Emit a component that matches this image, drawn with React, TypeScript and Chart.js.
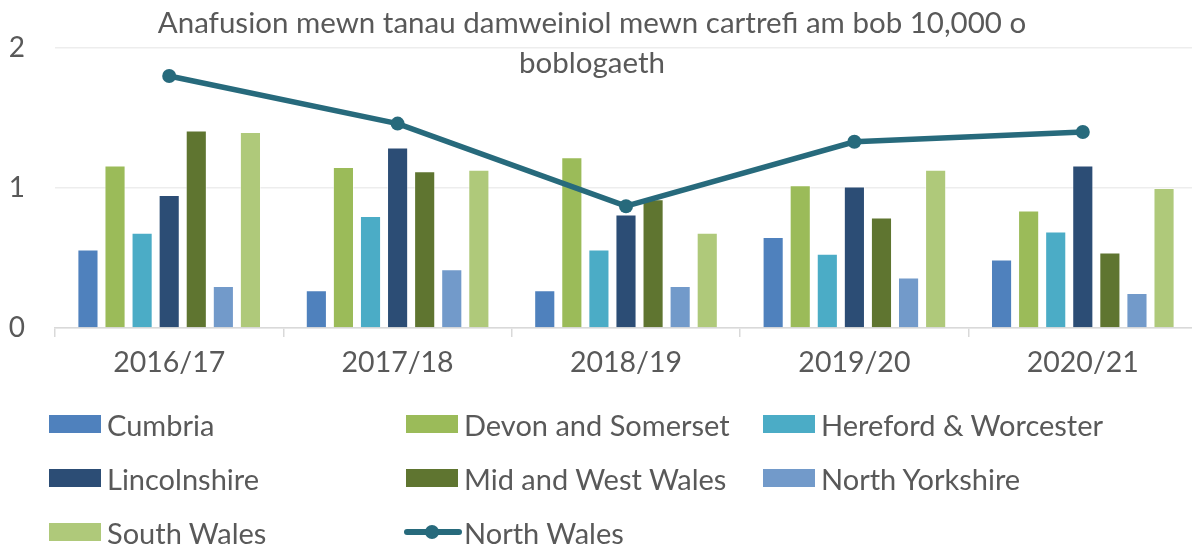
import React, { useEffect, useRef } from 'react';
import { Chart, registerables } from 'chart.js';
Chart.register(...registerables);

const FONT = 'Lato, "Noto Sans", sans-serif';
const TEXT = '#595959';

const categories = ['2016/17', '2017/18', '2018/19', '2019/20', '2020/21'];
const cumbria = [0.56, 0.27, 0.27, 0.65, 0.49];
const devonSomerset = [1.16, 1.15, 1.22, 1.02, 0.84];
const herefordWorcester = [0.68, 0.8, 0.56, 0.53, 0.69];
const lincolnshire = [0.95, 1.29, 0.81, 1.01, 1.16];
const midWestWales = [1.41, 1.12, 0.92, 0.79, 0.54];
const northYorkshire = [0.3, 0.42, 0.3, 0.36, 0.25];
const southWales = [1.4, 1.13, 0.68, 1.13, 1.0];
const northWales = [1.8, 1.46, 0.87, 1.33, 1.4];
const yTicks = [0, 1, 2];
const titleLines = ['Anafusion mewn tanau damweiniol mewn cartrefi am bob 10,000 o', 'boblogaeth'];

const barSeries = [
  { label: 'Cumbria', data: cumbria, color: '#4F81BD' },
  { label: 'Devon and Somerset', data: devonSomerset, color: '#9BBB59' },
  { label: 'Hereford & Worcester', data: herefordWorcester, color: '#4BACC6' },
  { label: 'Lincolnshire', data: lincolnshire, color: '#2C4D75' },
  { label: 'Mid and West Wales', data: midWestWales, color: '#5F7530' },
  { label: 'North Yorkshire', data: northYorkshire, color: '#729ACA' },
  { label: 'South Wales', data: southWales, color: '#AFC97A' },
];
const lineColor = '#276A7C';

const titlePlugin = {
  id: 'customTitle',
  afterDraw(chart: any) {
    const ctx = chart.ctx;
    ctx.save();
    ctx.font = `29.5px ${FONT}`;
    ctx.fillStyle = TEXT;
    ctx.textAlign = 'center';
    ctx.textBaseline = 'alphabetic';
    ctx.fillText(titleLines[0], 592, 33);
    ctx.fillText(titleLines[1], 592, 73);
    ctx.restore();
  },
};

const CANVAS_W = 1197;

export default function App() {
  const ref = useRef<HTMLCanvasElement>(null);
  useEffect(() => {
    const datasets: any[] = barSeries.map((s) => ({
      type: 'bar',
      label: s.label,
      data: s.data,
      backgroundColor: s.color,
      borderColor: 'rgba(255,255,255,0.45)',
      borderWidth: 1,
      categoryPercentage: 0.83,
      barPercentage: 0.78,
      order: 1,
    }));
    datasets.push({
      type: 'line',
      label: 'North Wales',
      data: northWales,
      borderColor: lineColor,
      backgroundColor: lineColor,
      borderWidth: 5.5,
      pointRadius: 7,
      pointBackgroundColor: lineColor,
      pointBorderWidth: 0,
      tension: 0,
      order: 0,
    });
    const chart = new Chart(ref.current!, {
      type: 'bar',
      data: { labels: categories, datasets },
      options: {
        responsive: false,
        animation: false,
        layout: { autoPadding: false, padding: { top: 48, bottom: 156, left: 0, right: 0 } },
        plugins: { legend: { display: false }, title: { display: false }, tooltip: { enabled: false } },
        scales: {
          x: {
            offset: true,
            grid: { display: true, offset: true, drawOnChartArea: false, drawTicks: true, tickLength: 9, color: '#D9D9D9', lineWidth: 1.5 },
            border: { display: true, color: '#D9D9D9', width: 1.5 },
            ticks: { color: TEXT, font: { family: FONT, size: 28.5 }, padding: 9 },
            afterFit(scale: any) {
              scale.height = 60;
              scale.paddingLeft = 0;
              scale.paddingRight = 0;
            },
          },
          y: {
            min: 0,
            max: 2,
            afterBuildTicks(scale: any) { scale.ticks = yTicks.map((v) => ({ value: v })); },
            grid: { color: '#EDEDED', lineWidth: 1.5, drawTicks: false },
            border: { display: false },
            ticks: { color: TEXT, font: { family: FONT, size: 28 }, padding: 30 },
            afterFit(scale: any) {
              scale.width = 55;
              scale.paddingTop = 0;
              scale.paddingBottom = 0;
            },
          },
        },
      },
      plugins: [titlePlugin],
    } as any);
    return () => chart.destroy();
  }, []);

  const legendItems = [
    ...barSeries.map((s) => ({ label: s.label, color: s.color, line: false })),
    { label: 'North Wales', color: lineColor, line: true },
  ];
  const colX = [49, 406, 763];
  const rowY = [424, 478, 532];

  return (
    <div style={{ position: 'absolute', left: 0, top: 0, width: 1192, height: 544, background: '#fff', overflow: 'hidden' }}>
      <canvas ref={ref} width={CANVAS_W} height={544} style={{ position: 'absolute', left: 0, top: 0, width: CANVAS_W, height: 544 }} />
      {legendItems.map((it, i) => {
        const x = colX[i % 3];
        const y = rowY[Math.floor(i / 3)];
        return (
          <div key={it.label} style={{ position: 'absolute', left: x, top: y - 20, height: 40, display: 'flex', alignItems: 'center', whiteSpace: 'nowrap', fontFamily: FONT, fontSize: 29, color: TEXT }}>
            {it.line ? (
              <svg width={58} height={18} style={{ marginLeft: -2, marginRight: 2 }}>
                <line x1={3} y1={9} x2={55} y2={9} stroke={it.color} strokeWidth={6} strokeLinecap="round" />
                <circle cx={28} cy={9} r={7} fill={it.color} />
              </svg>
            ) : (
              <span style={{ display: 'inline-block', width: 52, height: 18, background: it.color, marginRight: 6 }} />
            )}
            <span>{it.label}</span>
          </div>
        );
      })}
    </div>
  );
}
